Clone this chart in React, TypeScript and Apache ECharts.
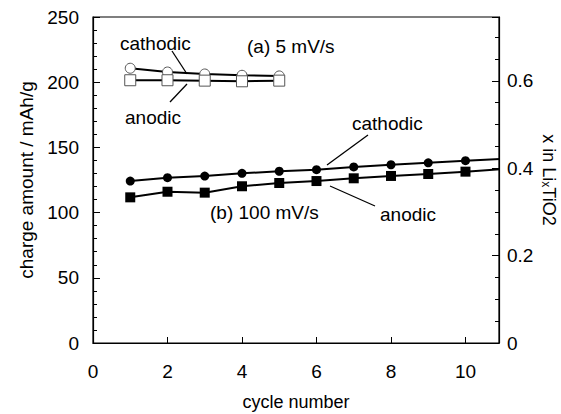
import React, { useEffect, useRef } from "react";
import * as echarts from "echarts";

const cycles = [1, 2, 3, 4, 5, 6, 7, 8, 9, 10, 11];
const cycles5 = [1, 2, 3, 4, 5];
const cathodic100 = [124.2, 126.8, 128.0, 130.1, 131.7, 132.9, 135.0, 136.7, 138.2, 139.8, 141.3];
const anodic100 = [111.7, 116.0, 115.3, 120.2, 122.7, 124.2, 126.3, 128.1, 129.6, 131.4, 133.4];
const cathodic5 = [210.7, 207.8, 206.3, 205.3, 204.8];
const anodic5 = [201.5, 201.5, 201.2, 200.7, 201.2];
const leftTicks = [0, 50, 100, 150, 200, 250];
const rightTicks = [0, 0.2, 0.4, 0.6];
const xTicks = [0, 2, 4, 6, 8, 10];

const FONT = "Liberation Sans, Arial, sans-serif";
const FS = 19;

export default function App() {
  const ref = useRef<HTMLDivElement>(null);
  useEffect(() => {
    if (!ref.current) return;
    const chart = echarts.init(ref.current, null, { renderer: "svg" });
    const pair = (xs: number[], ys: number[]) => xs.map((x, i) => [x, ys[i]]);
    const txt = (x: number, y: number, s: string) => ({
      type: "text",
      x,
      y,
      style: { text: s, font: `${FS}px ${FONT}`, fill: "#000", textVerticalAlign: "middle" },
    });
    const ln = (x1: number, y1: number, x2: number, y2: number) => ({
      type: "line",
      shape: { x1, y1, x2, y2 },
      style: { stroke: "#000", lineWidth: 1.3 },
    });
    chart.setOption({
      animation: false,
      backgroundColor: "#fff",
      grid: {
        left: 93,
        right: 62,
        top: 17,
        bottom: 71,
        show: true,
        borderColor: "#000",
        borderWidth: 1.2,
        outerBoundsMode: "none",
        containLabel: false,
      },
      xAxis: {
        type: "value",
        min: 0,
        max: 10.9,
        interval: 2,
        name: "cycle number",
        nameLocation: "middle",
        nameGap: 50,
        nameTextStyle: { fontFamily: FONT, fontSize: 18, color: "#000" },
        axisLine: { lineStyle: { color: "#000", width: 1.2 } },
        axisTick: { inside: true, length: 6, lineStyle: { color: "#000" } },
        axisLabel: {
          margin: 19,
          fontFamily: FONT,
          fontSize: FS,
          color: "#000",
          formatter: (v: number) => (xTicks.includes(v) ? String(v) : ""),
        },
        splitLine: { show: false },
      },
      yAxis: [
        {
          type: "value",
          min: 0,
          max: 250,
          interval: 50,
          name: "charge amount / mAh/g",
          nameLocation: "middle",
          nameGap: 46,
          nameTextStyle: { fontFamily: FONT, fontSize: FS, color: "#000" },
          axisLine: { show: true, lineStyle: { color: "#000", width: 1.2 } },
          axisTick: { inside: true, length: 7, lineStyle: { color: "#000" } },
          minorTick: { show: true, splitNumber: 5, length: 4, lineStyle: { color: "#000" } },
          axisLabel: {
            margin: 14,
            fontFamily: FONT,
            fontSize: FS,
            color: "#000",
            formatter: (v: number) => (leftTicks.includes(v) ? String(v) : ""),
          },
          splitLine: { show: false },
        },
        {
          type: "value",
          position: "right",
          min: 0,
          max: 250 / 335,
          interval: 0.2,
          name: "x in Li{sub|x}TiO2",
          nameLocation: "middle",
          nameRotate: -90,
          nameGap: 41,
          nameMoveOverlap: false,
          nameTextStyle: {
            fontFamily: FONT,
            fontSize: 18,
            color: "#000",
            lineHeight: 18,
            rich: { sub: { fontFamily: FONT, fontSize: 12, color: "#000", verticalAlign: "bottom", lineHeight: 18, padding: [4, 0, 0, 0] } },
          },
          axisLine: { show: true, lineStyle: { color: "#000", width: 1.2 } },
          axisTick: { inside: true, length: 7, lineStyle: { color: "#000" } },
          minorTick: { show: true, splitNumber: 4, length: 4, lineStyle: { color: "#000" } },
          axisLabel: {
            margin: 8,
            fontFamily: FONT,
            fontSize: FS,
            color: "#000",
            formatter: (v: number) => {
              const r = Math.round(v * 10) / 10;
              return rightTicks.some((t) => Math.abs(t - v) < 1e-6) ? (r === 0 ? "0" : r.toFixed(1)) : "";
            },
          },
          splitLine: { show: false },
        },
      ],
      series: [
        {
          type: "line",
          data: pair(cycles, cathodic100),
          symbol: "circle",
          symbolSize: 9,
          clip: true,
          lineStyle: { color: "#000", width: 2 },
          itemStyle: { color: "#000" },
        },
        {
          type: "line",
          data: pair(cycles, anodic100),
          symbol: "rect",
          symbolSize: 10,
          clip: true,
          lineStyle: { color: "#000", width: 2 },
          itemStyle: { color: "#000" },
        },
        {
          type: "line",
          data: pair(cycles5, cathodic5),
          symbol: "circle",
          symbolSize: 10,
          lineStyle: { color: "#000", width: 2 },
          itemStyle: { color: "#fff", borderColor: "#555", borderWidth: 1 },
        },
        {
          type: "line",
          data: pair(cycles5, anodic5),
          symbol: "rect",
          symbolSize: 11,
          lineStyle: { color: "#000", width: 2 },
          itemStyle: { color: "#fff", borderColor: "#555", borderWidth: 1 },
        },
      ],
      graphic: [
        txt(120, 43, "cathodic"),
        txt(247, 46, "(a) 5 mV/s"),
        ln(172, 51, 187, 74),
        ln(187, 84, 170, 102),
        txt(125, 117, "anodic"),
        txt(352, 123, "cathodic"),
        ln(368, 135, 327, 165),
        ln(330, 186, 375, 206),
        txt(380, 214, "anodic"),
        txt(210, 212, "(b) 100 mV/s"),
      ],
    });
    return () => chart.dispose();
  }, []);
  return <div ref={ref} style={{ width: 561, height: 414, position: "absolute", left: 0, top: 0 }} />;
}
